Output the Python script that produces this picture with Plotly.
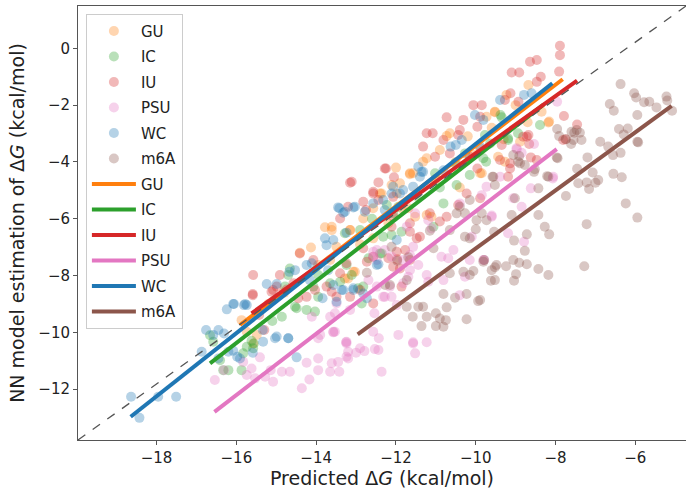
import plotly.graph_objects as go

categories = ["GU", "IC", "IU", "PSU", "WC", "m6A"]
colors = ["#ff7f0e", "#2ca02c", "#d62728", "#e377c2", "#1f77b4", "#8c564b"]

# ---- scatter data (predicted dG, NN estimation) ----
gu_x = [-8.68, -8.16, -9.23, -9.52, -9.73, -10.65, -10.73, -9.44, -8.89, -8.35, -11.23, -11.32, -11.57, -11.65,
        -10.90, -10.06, -9.89, -9.27, -8.18, -9.85, -9.52, -11.65, -11.90, -13.78, -13.61, -14.41, -14.13, -13.49,
        -13.15, -12.40, -11.98, -13.07, -13.28, -15.87, -15.49, -11.69, -12.57, -13.95, -15.74, -15.58, -13.61,
        -13.15, -13.20, -13.03, -12.11, -11.52, -11.23, -11.11, -12.36, -12.57, -12.19, -9.89, -13.65, -12.82,
        -11.86, -9.0, -9.6, -10.2, -10.5, -11.0, -12.0, -8.7, -9.3, -10.4, -12.9, -14.8, -15.2]
gu_y = [-1.29, -2.58, -1.64, -2.23, -2.41, -2.99, -3.09, -3.82, -3.29, -2.23, -3.87, -3.99, -4.40, -4.40,
        -3.58, -3.76, -3.52, -3.99, -2.61, -4.40, -2.25, -4.43, -4.75, -6.30, -6.40, -7.20, -7.01, -6.99,
        -6.40, -5.11, -5.11, -7.87, -8.10, -9.57, -10.09, -5.63, -6.69, -7.63, -9.98, -10.39, -6.28,
        -6.40, -8.10, -7.87, -4.81, -5.93, -5.87, -5.93, -5.11, -5.63, -6.16, -4.40, -7.45, -5.99,
        -5.63, -2.0, -2.8, -3.1, -4.0, -4.6, -4.2, -2.6, -3.2, -4.9, -6.9, -8.6, -9.0]

ic_x = [-16.66, -16.58, -16.33, -16.20, -15.87, -16.41, -15.83, -15.74, -15.58, -15.56, -15.62, -14.86, -14.49,
        -14.07, -14.78, -14.66, -14.70, -14.53, -14.24, -14.03, -13.95, -13.28, -12.90, -12.36, -12.07, -11.94,
        -12.23, -13.95, -13.11, -12.82, -13.65, -13.40, -12.86, -12.95, -12.40, -12.11, -11.86, -10.81, -10.48,
        -10.15, -11.06, -12.32, -12.69, -13.24, -8.39, -9.35, -9.19, -8.94, -9.77, -9.64, -10.27, -10.52, -9.81,
        -11.02, -9.19, -9.74, -9.38, -11.5, -10.9, -12.6, -15.1]
ic_y = [-10.10, -10.33, -11.33, -11.33, -11.33, -10.98, -10.74, -10.51, -10.56, -10.39, -10.30, -9.45, -9.15,
        -8.39, -8.39, -7.75, -7.98, -9.10, -9.21, -9.27, -8.75, -6.51, -6.40, -7.22, -5.81, -5.58,
        -5.52, -7.98, -7.98, -8.39, -8.27, -8.22, -8.98, -8.45, -7.22, -6.57, -6.46, -5.46, -4.81,
        -4.46, -6.28, -6.63, -7.39, -7.63, -2.70, -2.43, -3.17, -2.99, -3.05, -3.35, -3.70, -4.05, -3.87,
        -4.40, -3.23, -3.99, -2.35, -5.2, -4.9, -6.0, -9.6]

iu_x = [-7.89, -7.89, -7.91, -8.64, -8.47, -8.47, -8.37, -9.10, -8.91, -7.79, -8.93, -9.27, -9.13, -10.06, -9.85,
        -10.73, -10.40, -10.31, -9.89, -11.23, -11.08, -11.32, -10.81, -10.44, -9.96, -8.72, -8.66, -9.14, -9.19,
        -8.47, -12.25, -12.05, -11.02, -10.65, -10.15, -7.81, -9.96, -9.35, -7.46, -7.75, -8.62, -8.81, -8.68,
        -9.14, -9.39, -15.58, -15.59, -14.91, -14.57, -15.08, -14.07, -14.41, -13.74, -13.61, -13.49, -13.20,
        -13.11, -12.82, -12.75, -12.57, -12.44, -12.28, -12.07, -13.40, -12.82, -12.73, -12.57, -13.24, -13.40,
        -13.15, -12.19, -12.07, -11.90, -11.77, -11.98, -11.65, -11.48, -11.86, -12.11, -12.44, -11.65, -12.57,
        -12.90, -15.59, -15.43, -15.30, -15.12, -14.99, -14.74, -14.45, -14.24, -14.03, -13.15, -12.57, -12.07,
        -11.97, -11.15, -10.90, -10.73, -10.44, -10.23, -9.89, -11.65, -11.40]
iu_y = [0.09, -0.24, -0.82, -0.47, -0.41, -1.18, -1.00, -0.85, -0.85, -2.38, -1.88, -1.82, -1.58, -2.00, -2.00,
        -2.43, -2.88, -2.52, -2.41, -2.99, -2.99, -3.46, -3.23, -3.05, -2.76, -3.11, -3.37, -4.05, -4.52,
        -3.93, -4.23, -4.54, -3.82, -3.70, -3.82, -3.23, -4.23, -3.40, -2.68, -3.20, -3.84, -3.11, -3.05,
        -4.23, -3.93, -7.98, -8.69, -7.98, -8.27, -8.51, -7.45, -7.22, -8.39, -8.57, -8.75, -5.58,
        -4.70, -5.40, -5.69, -5.05, -4.72, -4.23, -5.23, -5.99, -7.04, -7.51, -7.34, -7.57, -7.92,
        -8.75, -7.39, -7.69, -7.75, -7.10, -7.16, -7.45, -6.69, -8.39, -6.28, -5.34, -6.16, -8.98,
        -8.51, -8.65, -9.39, -9.92, -8.57, -8.39, -8.49, -8.80, -8.75, -8.51, -4.73, -5.11, -5.93,
        -7.43, -5.81, -6.10, -5.93, -5.52, -5.11, -5.28, -6.46, -6.63]

psu_x = [-16.54, -16.31, -15.74, -15.53, -15.28, -15.14, -15.08, -14.86, -14.66, -14.36, -14.17, -13.95, -13.95,
         -14.24, -13.65, -13.45, -13.24, -13.24, -13.53, -13.95, -14.11, -13.53, -15.41, -15.83, -15.62, -13.57,
         -13.25, -13.20, -13.00, -12.79, -12.53, -12.43, -12.44, -12.36, -13.42, -13.61, -13.20, -11.57, -11.23,
         -11.52, -12.54, -12.32, -12.11, -12.15, -11.69, -11.65, -11.44, -11.23, -11.19, -10.81, -10.56, -10.69,
         -10.15, -10.40, -10.27, -10.10, -9.79, -9.60, -9.85, -9.73, -12.48, -12.69, -12.57, -12.48, -11.73,
         -11.65, -11.11, -11.19, -11.52, -11.82, -13.15, -13.49, -12.28, -10.40, -10.86, -8.97, -8.85, -8.54,
         -8.62, -8.85, -8.79, -9.19, -9.60, -9.39, -8.07, -7.96, -9.81, -9.06, -8.98, -8.06, -12.48, -12.11,
         -11.57, -12.28, -11.98, -13.24, -12.90, -12.57, -11.94, -11.57, -13.65, -13.57, -13.90, -12.57, -11.82]
psu_y = [-11.68, -11.33, -11.50, -11.62, -11.56, -11.33, -11.74, -11.39, -11.39, -11.97, -11.66, -11.33, -10.92,
         -11.07, -11.39, -11.04, -10.86, -10.39, -9.98, -10.21, -9.45, -9.33, -10.88, -11.04, -11.27, -10.00,
         -10.35, -10.68, -10.72, -10.66, -10.59, -10.21, -10.62, -11.39, -11.39, -11.09, -10.92, -10.35, -10.35,
         -10.74, -9.33, -8.75, -8.75, -8.39, -8.04, -7.81, -7.63, -7.98, -8.22, -8.16, -7.10, -7.39,
         -7.45, -8.69, -8.04, -6.63, -7.45, -5.93, -5.17, -4.87, -8.39, -8.16, -7.34, -7.10, -6.28,
         -7.28, -6.34, -6.05, -5.81, -7.45, -9.21, -8.98, -7.10, -5.46, -7.34, -3.55, -3.68, -3.37,
         -4.93, -5.58, -6.81, -6.51, -5.89, -4.52, -4.58, -1.88, -7.45, -5.28, -3.52, -4.52, -7.45, -7.34,
         -6.99, -8.75, -9.04, -10.33, -10.56, -9.98, -10.09, -10.39, -9.45, -9.98, -10.09, -7.16, -8.27]

wc_x = [-18.64, -18.43, -17.96, -17.51, -16.87, -16.76, -16.45, -16.31, -16.24, -16.06, -15.81, -15.74, -16.08,
        -15.98, -16.20, -16.45, -15.91, -15.59, -15.34, -15.03, -14.70, -14.49, -15.33, -16.58, -16.08, -15.78,
        -15.24, -14.99, -14.67, -14.53, -14.24, -14.11, -13.84, -13.45, -13.28, -13.07, -13.78, -13.57, -13.24,
        -12.78, -12.57, -12.32, -12.11, -11.82, -11.57, -12.44, -13.07, -14.99, -14.70, -13.74, -13.36, -14.16,
        -13.70, -8.79, -8.60, -10.02, -9.81, -10.35, -10.50, -10.63, -11.44, -11.36, -9.89, -10.81, -9.39,
        -13.42, -13.32, -13.03, -12.48, -12.07, -11.90, -11.98, -12.82, -13.07, -13.32, -13.57, -12.73, -13.49,
        -11.40, -11.32, -12.28]
wc_y = [-12.27, -13.01, -12.27, -12.27, -10.68, -9.92, -9.92, -10.04, -9.19, -9.00, -9.04, -9.04, -10.65,
        -10.86, -10.68, -10.92, -10.92, -10.72, -9.92, -10.21, -10.21, -10.88, -10.33, -10.09, -9.00, -9.00,
        -8.30, -8.30, -7.87, -7.81, -7.63, -7.57, -8.80, -5.60, -5.75, -5.60, -6.69, -6.75, -6.49,
        -5.75, -5.46, -5.34, -5.11, -4.99, -4.87, -7.60, -8.51, -10.15, -10.21, -6.93, -8.51, -8.16,
        -7.81, -1.64, -1.58, -2.35, -2.52, -3.23, -3.40, -3.46, -4.17, -4.35, -3.46, -4.29, -1.82,
        -5.63, -5.79, -5.58, -7.63, -4.87, -5.11, -6.75, -8.63, -8.45, -8.51, -8.33, -8.80, -8.92,
        -4.52, -4.35, -5.69]

m6a_x = [-6.37, -6.03, -5.98, -5.78, -5.65, -5.47, -5.22, -5.20, -5.08, -6.64, -6.54, -5.95, -6.41, -6.29, -6.19,
         -5.95, -5.93, -6.88, -6.68, -6.56, -6.37, -7.20, -7.46, -6.55, -6.34, -7.07, -7.43, -7.22, -6.93, -7.00,
         -7.16, -7.74, -7.95, -7.35, -7.53, -7.39, -7.61, -7.74, -7.96, -7.91, -6.24, -5.95, -7.22, -7.28, -8.43,
         -8.27, -8.16, -8.72, -8.77, -9.04, -9.10, -9.02, -8.43, -8.21, -7.97, -8.52, -9.56, -9.52, -8.89, -8.91,
         -9.06, -8.91, -9.52, -9.62, -9.24, -8.99, -8.43, -8.18, -8.72, -9.04, -9.79, -9.89, -11.73, -11.44,
         -11.32, -11.58, -11.36, -11.23, -11.00, -10.90, -11.00, -10.73, -10.81, -10.75, -10.52, -10.23, -10.23,
         -9.94, -10.81, -10.31, -10.15, -10.06, -10.65, -12.15, -12.73, -11.73, -12.11, -11.69, -11.97, -11.06,
         -11.15, -10.65, -10.27, -10.15, -10.00, -9.58, -9.54, -9.81, -9.60, -9.48, -9.52, -9.98, -9.73, -9.85,
         -10.15, -10.40, -10.27, -10.48, -12.27, -7.60, -7.47, -7.55, -9.06, -8.94, -8.77, -8.54, -8.18]
m6a_y = [-1.26, -1.58, -1.73, -1.90, -1.88, -2.08, -1.70, -1.84, -2.20, -1.96, -2.20, -2.35, -2.84, -3.03, -2.82,
         -3.29, -3.31, -3.29, -3.46, -3.76, -3.68, -3.84, -4.24, -4.42, -4.54, -4.37, -4.75, -4.72, -4.64, -4.73,
         -4.95, -5.20, -3.87, -3.23, -2.97, -2.97, -3.37, -3.20, -2.84, -3.09, -5.46, -5.96, -6.19, -7.67, -5.87,
         -6.28, -6.55, -6.55, -7.13, -6.77, -5.87, -5.28, -4.93, -4.50, -3.84, -4.26, -4.52, -4.81, -4.05, -3.79,
         -7.45, -7.55, -7.71, -8.18, -7.67, -7.95, -7.77, -7.98, -7.60, -8.18, -7.45, -8.86, -9.10, -9.10,
         -9.10, -9.45, -9.78, -9.45, -9.33, -9.51, -9.78, -9.12, -9.80, -9.57, -8.78, -9.54, -8.65,
         -8.90, -8.65, -7.87, -7.98, -7.84, -7.92, -8.33, -7.90, -8.16, -6.99, -7.36, -7.48, -7.04,
         -6.42, -6.40, -6.63, -6.69, -6.37, -4.52, -6.46, -7.51, -7.81, -7.63, -8.16, -6.05, -6.05, -5.81,
         -5.34, -5.58, -5.81, -5.81, -8.33, -2.94, -2.88, -3.23, -3.76, -3.99, -4.11, -4.35, -4.52]

scatter_x = [gu_x, ic_x, iu_x, psu_x, wc_x, m6a_x]
scatter_y = [gu_y, ic_y, iu_y, psu_y, wc_y, m6a_y]

# ---- fitted regression line end points ----
fit_x0 = [-15.91, -16.66, -15.62, -16.55, -18.65, -12.96]
fit_y0 = [-9.74, -11.09, -9.33, -12.80, -12.97, -10.07]
fit_x1 = [-7.82, -8.30, -7.46, -7.97, -8.08, -5.09]
fit_y1 = [-1.09, -1.98, -1.14, -3.55, -1.23, -2.03]

x_ticks = [-18, -16, -14, -12, -10, -8, -6]
y_ticks = [-12, -10, -8, -6, -4, -2, 0]

fig = go.Figure()
for i, (name, col, xs, ys) in enumerate(zip(categories, colors, scatter_x, scatter_y)):
    fig.add_trace(go.Scatter(x=xs, y=ys, mode="markers", name=name, legendgroup="s%d" % i,
                             marker=dict(color=col, size=10, opacity=0.33, line=dict(width=0))))
for i, (name, col, a, b, c, d) in enumerate(zip(categories, colors, fit_x0, fit_y0, fit_x1, fit_y1)):
    fig.add_trace(go.Scatter(x=[a, c], y=[b, d], mode="lines", name=name, legendgroup="l%d" % i,
                             line=dict(color=col, width=4)))

fig.add_shape(type="line", xref="x domain", yref="y domain", x0=0, y0=0, x1=1, y1=1,
              line=dict(color="#555555", width=1.3, dash="dash"), layer="above")

axis_common = dict(showline=True, linecolor="#555555", linewidth=1, mirror=True, ticks="outside",
                   ticklen=4, tickcolor="#555555", showgrid=False, zeroline=False, automargin=False,
                   tickfont=dict(family="DejaVu Sans", size=15, color="#222222"))
fig.update_xaxes(range=[-19.97, -4.73], tickvals=x_ticks, **axis_common,
                 title=dict(text="Predicted Δ<i>G</i> (kcal/mol)", font=dict(family="DejaVu Sans", size=19, color="#222222"), standoff=4))
fig.update_yaxes(range=[-13.79, 1.49], tickvals=y_ticks, **axis_common,
                 title=dict(text="NN model estimation of Δ<i>G</i> (kcal/mol)", font=dict(family="DejaVu Sans", size=19, color="#222222"), standoff=8))

fig.update_layout(
    width=686, height=490,
    margin=dict(l=78, r=0, t=6, b=50, autoexpand=False),
    plot_bgcolor="white", paper_bgcolor="white",
    font=dict(family="DejaVu Sans"),
    legend=dict(x=0.013, y=0.982, xanchor="left", yanchor="top", traceorder="grouped",
                bgcolor="rgba(255,255,255,0.85)", bordercolor="#cccccc", borderwidth=1,
                font=dict(family="DejaVu Sans", size=15, color="#222222"), tracegroupgap=3,
                itemwidth=44),
    showlegend=True,
)

fig.write_html("out.html", config={"displayModeBar": False},
               post_script="document.body.style.margin='0px';")
